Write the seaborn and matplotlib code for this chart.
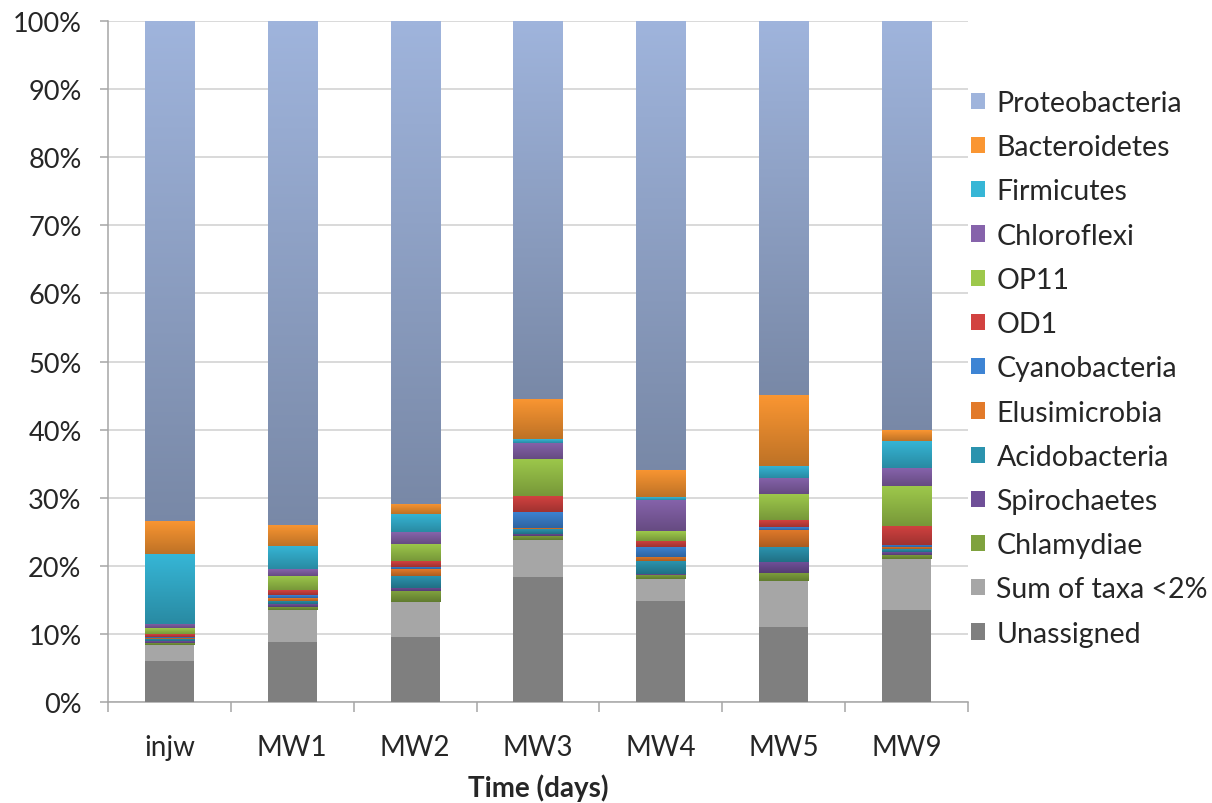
import numpy as np
import pandas as pd
import matplotlib
matplotlib.use("Agg")
import matplotlib.pyplot as plt
import matplotlib.colors as mcolors
import seaborn as sns

samples = ["injw", "MW1", "MW2", "MW3", "MW4", "MW5", "MW9"]

# taxa listed from bottom of the stack to the top
taxa = ["Unassigned", "Sum of taxa <2%", "Chlamydiae", "Spirochaetes", "Acidobacteria",
        "Elusimicrobia", "Cyanobacteria", "OD1", "OP11", "Chloroflexi",
        "Firmicutes", "Bacteroidetes", "Proteobacteria"]

unassigned     = [6.0, 8.8, 9.6, 18.4, 14.8, 11.0, 13.5]
sum_small      = [2.3, 4.7, 5.1, 5.4, 3.2, 6.7, 7.5]
chlamydiae     = [0.4, 0.5, 1.6, 0.6, 0.7, 1.3, 0.6]
spirochaetes   = [0.2, 0.4, 0.5, 0.3, 0.1, 1.6, 0.4]
acidobacteria  = [0.3, 0.5, 1.7, 0.7, 1.9, 2.2, 0.4]
elusimicrobia  = [0.2, 0.4, 1.0, 0.1, 0.6, 2.5, 0.3]
cyanobacteria  = [0.2, 0.4, 0.4, 2.4, 1.5, 0.4, 0.3]
od1            = [0.4, 0.7, 0.8, 2.3, 0.9, 1.0, 2.9]
op11           = [0.8, 2.1, 2.5, 5.5, 1.4, 3.8, 5.8]
chloroflexi    = [0.7, 1.0, 1.7, 2.4, 4.6, 2.4, 2.6]
firmicutes     = [10.2, 3.4, 2.7, 0.5, 0.4, 1.8, 4.1]
bacteroidetes  = [4.9, 3.1, 1.5, 5.9, 4.0, 10.4, 1.5]
proteobacteria = [73.4, 74.0, 70.9, 55.5, 65.9, 54.9, 60.1]

# top-of-segment colours (Excel-style gradient gets darker downwards)
colors = ["#7f7f7f", "#a6a6a6", "#7fa23e", "#6f4f98", "#2b93ae",
          "#e27a2a", "#3d84d4", "#d24240", "#9dc84b", "#8663ab",
          "#36b6d6", "#fa9632", "#9fb4dc"]
flat = {"Unassigned", "Sum of taxa <2%"}

df = pd.DataFrame(
    [unassigned, sum_small, chlamydiae, spirochaetes, acidobacteria, elusimicrobia,
     cyanobacteria, od1, op11, chloroflexi, firmicutes, bacteroidetes, proteobacteria],
    index=taxa, columns=samples)
bottoms = df.cumsum().shift(1).fillna(0)

sns.set_style("white")
plt.rcParams["font.family"] = ["Lato", "DejaVu Sans"]

fig, ax = plt.subplots(figsize=(12.12, 8.04), dpi=100)
fig.subplots_adjust(left=0.0891, right=0.7987, top=0.9726, bottom=0.1256)

# draw the top layer first so the legend lists Proteobacteria first
seg_info = []
for name, col in zip(taxa[::-1], colors[::-1]):
    n_before = len(ax.patches)
    sns.barplot(x=samples, y=df.loc[name].values, bottom=bottoms.loc[name].values,
                color=col, width=0.4, label=name, ax=ax, saturation=1,
                linewidth=0, zorder=3)
    for p in ax.patches[n_before:]:
        seg_info.append((p, col, name in flat))

# vertical gradient on each segment
for p, col, is_flat in seg_info:
    if is_flat or p.get_height() <= 0:
        continue
    top = np.array(mcolors.to_rgb(col))
    bot = top * 0.76
    t = np.linspace(0, 1, 64)[:, None]
    img = (top * (1 - t) + bot * t)[:, None, :]
    x0, y0 = p.get_x(), p.get_y()
    im = ax.imshow(img, extent=(x0, x0 + p.get_width(), y0, y0 + p.get_height()),
                   origin="upper", aspect="auto", zorder=3.5, interpolation="bilinear")
    im.set_clip_path(p)

ax.set_ylim(0, 100)
ax.set_xlim(-0.5, 6.5)
ax.set_yticks(np.arange(0, 101, 10))
ax.set_yticklabels([f"{v}%" for v in range(0, 101, 10)], fontsize=19.5)
ax.yaxis.grid(True, color="#cfcfcf", linewidth=1.1, zorder=0)
ax.set_axisbelow(True)
ax.tick_params(axis="y", length=6, width=1.1, color="#a6a6a6", left=True, pad=13)
ax.tick_params(axis="x", which="major", length=0, labelsize=20, pad=23)
ax.set_xticks(np.arange(-0.5, 7, 1), minor=True)
ax.tick_params(axis="x", which="minor", length=7, width=1.1, color="#a6a6a6", bottom=True)
for s in ["top", "right"]:
    ax.spines[s].set_visible(False)
for s in ["left", "bottom"]:
    ax.spines[s].set_color("#a6a6a6")
    ax.spines[s].set_linewidth(1.1)

ax.set_xlabel("Time (days)", fontsize=20, fontweight="bold", labelpad=10)
ax.set_ylabel("")

ax.legend(loc="center left", bbox_to_anchor=(1.0, 0.4900), frameon=False,
          fontsize=20.5, handlelength=0.5, handleheight=0.5, handletextpad=0.4,
          labelspacing=0.64, borderaxespad=0, borderpad=0.1)

fig.savefig("out.png", dpi=100)
